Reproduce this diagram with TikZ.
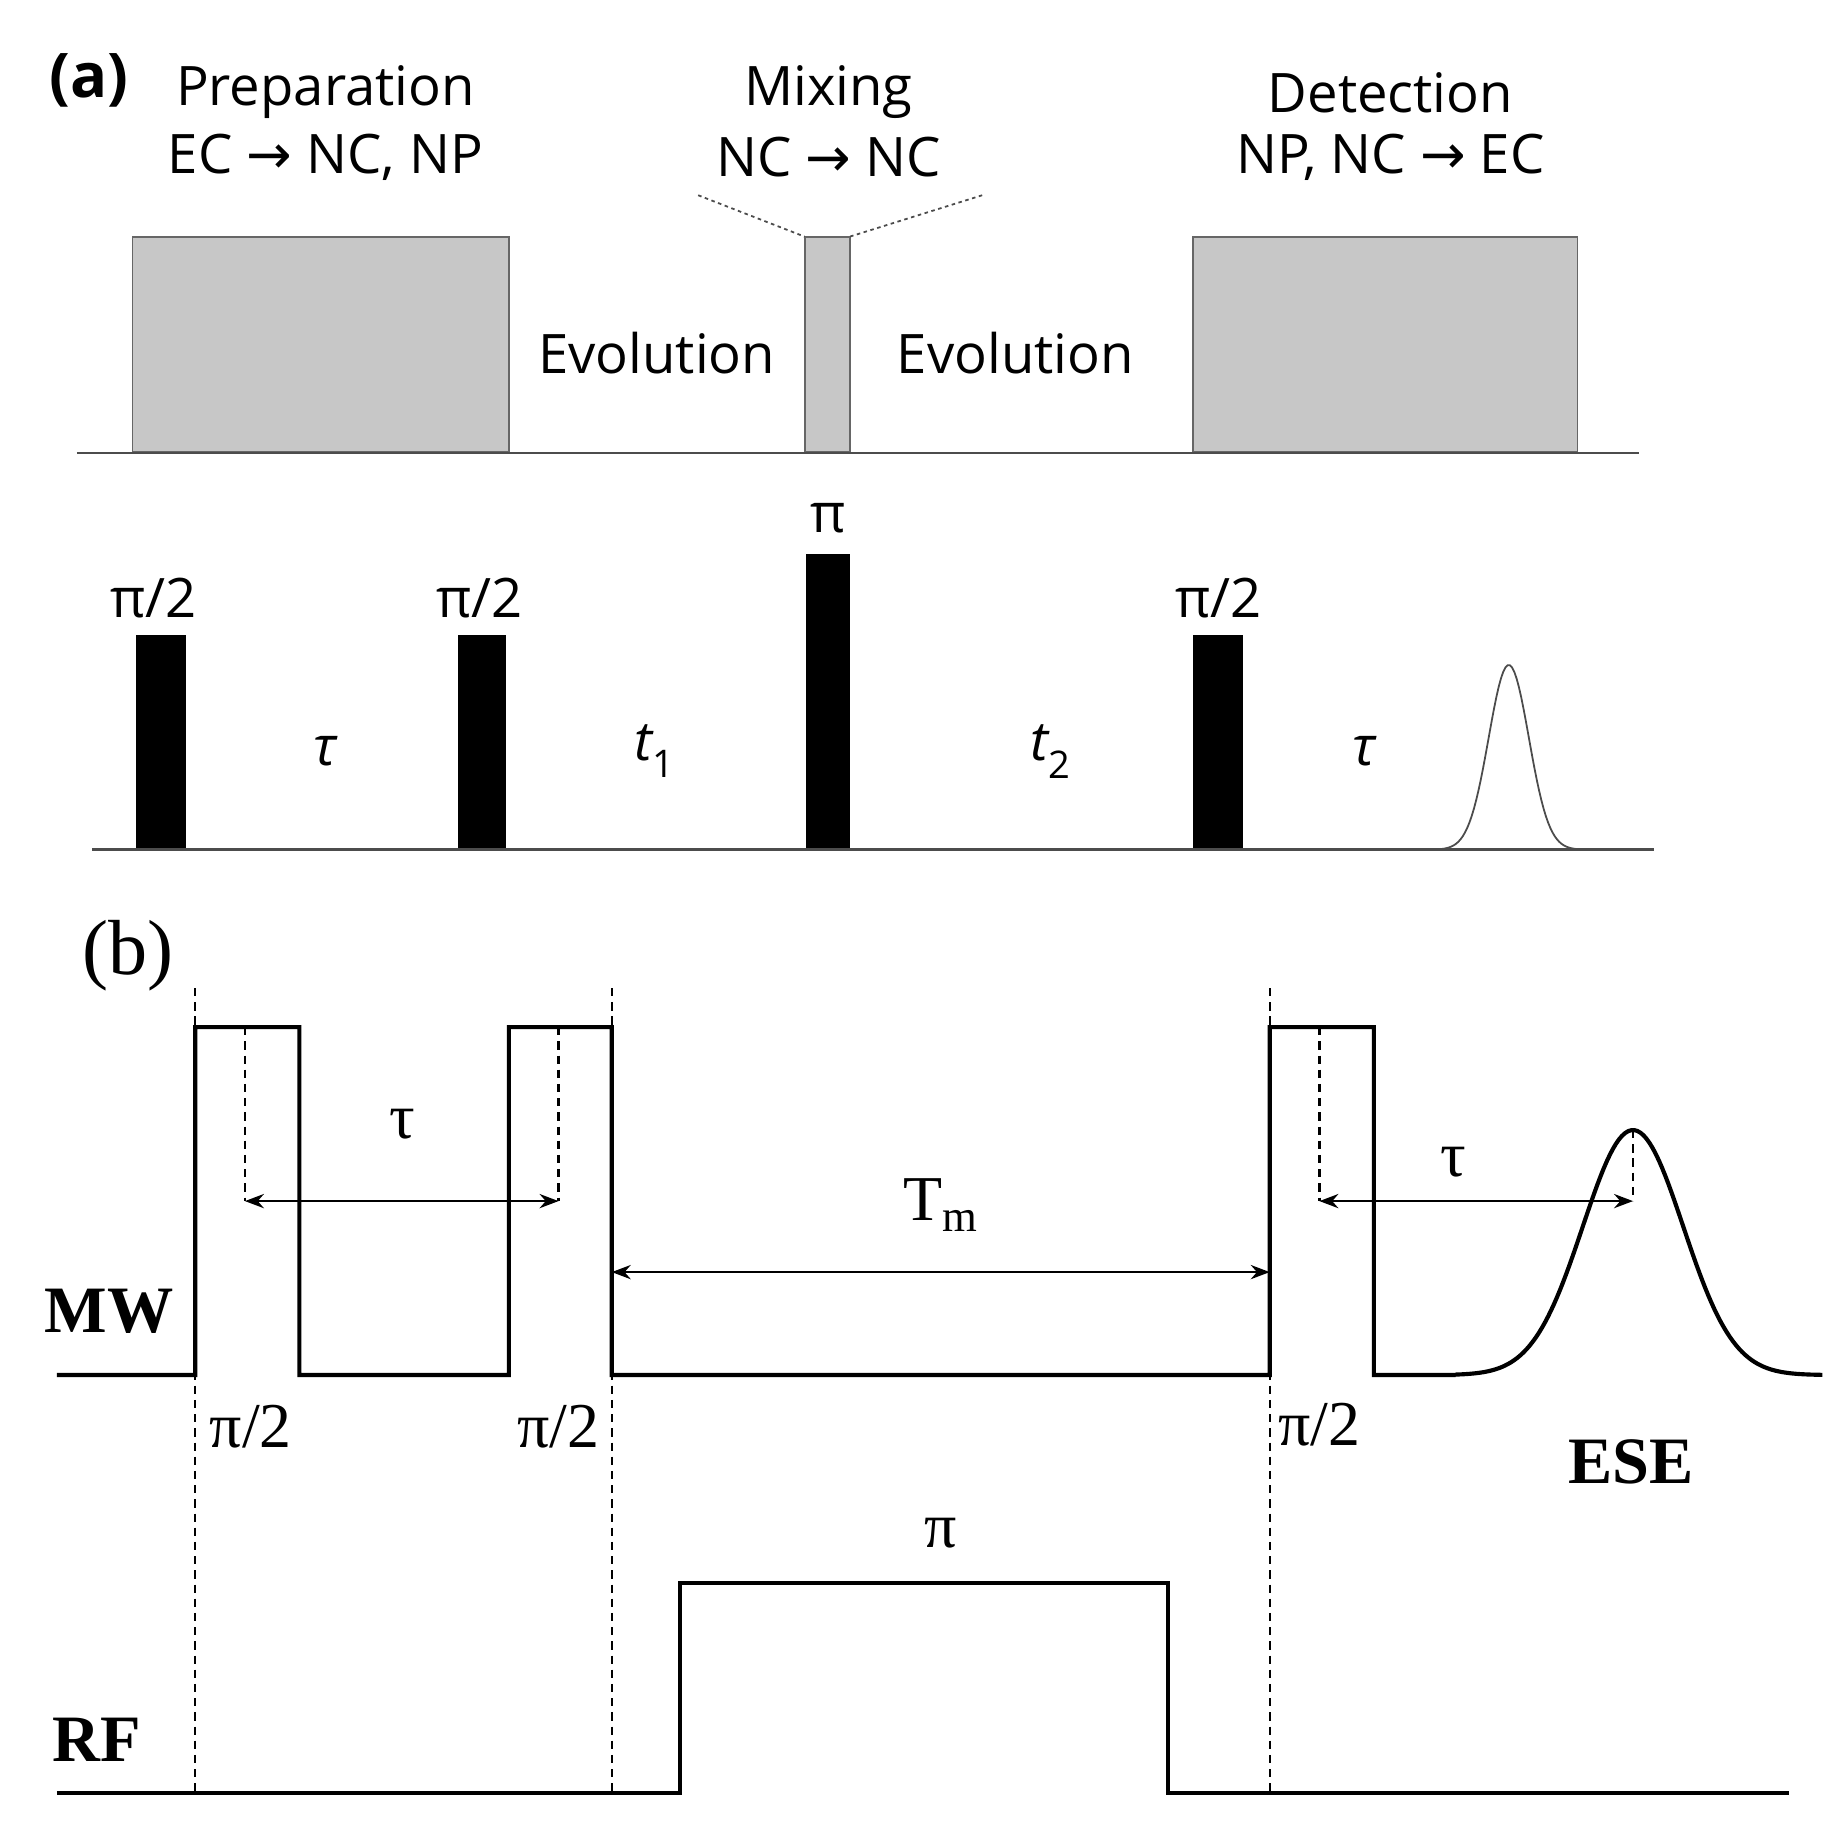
\documentclass[tikz,border=0pt]{standalone}
\usepackage{fontspec}
\setmainfont{Liberation Serif}
\newfontfamily\osans{Open Sans}
\newfontfamily\dv{DejaVu Sans}
\usetikzlibrary{arrows.meta}
\newcommand{\rar}{{\dv →}}
\begin{document}
\begin{tikzpicture}[x=1pt,y=-1pt,
  sa/.style={font=\osans\fontsize{46}{50}\selectfont},
  gbox/.style={draw=black!60,line width=1.5pt,fill=black!22},
  bbar/.style={fill=black},
  base/.style={draw=black!70,line width=2pt},
  sig/.style={line width=3.5pt,line join=miter},
  vdash/.style={line width=2pt,dash pattern=on 7pt off 5pt},
  dimarr/.style={{Stealth[length=16pt]}-{Stealth[length=16pt]},line width=2pt},
  sl/.style={font=\fontsize{54}{58}\selectfont},
  bl/.style={font=\bfseries\fontsize{56}{60}\selectfont}]
\useasboundingbox (0,0) rectangle (1560,1539);
% panel a
\node[font=\osans\bfseries\fontsize{52}{56}\selectfont] (la) at (75,68) {(a)};
\node[sa] (prep) at (275,78) {Preparation};
\node[sa] (prep2) at (275,133) {EC \rar{} NC, NP};
\node[sa] (mix) at (700,78) {Mixing};
\node[sa] (mix2) at (700,133) {NC \rar{} NC};
\node[sa] (det) at (1175,78) {Detection};
\node[sa] (det2) at (1175,133) {NP, NC \rar{} EC};
\draw[gbox] (112,200) rectangle (430,382);
\draw[gbox] (680,200) rectangle (718,382);
\draw[gbox] (1008,200) rectangle (1333,382);
\coordinate (m1) at (590,165); \coordinate (m2) at (830,165);
\coordinate (mb1) at (680,200); \coordinate (mb2) at (718,200);
\draw[dashed,line width=1.5pt,black!70] (m1) -- (mb1);
\draw[dashed,line width=1.5pt,black!70] (m2) -- (mb2);
\draw[base] (65,383) -- (1385,383);
\node[sa] (ev1) at (555,298) {Evolution};
\node[sa] (ev2) at (858,298) {Evolution};
\fill[bbar] (115,537) rectangle (157,718);
\fill[bbar] (387,537) rectangle (428,718);
\fill[bbar] (681,468) rectangle (718,718);
\fill[bbar] (1008,537) rectangle (1050,718);
\node[sa] (p1) at (130,505) {π/2};
\node[sa] (p2) at (405,505) {π/2};
\node[sa] (p3) at (700,438) {π};
\node[sa] (p4) at (1030,505) {π/2};
\node[sa] (ta1) at (275,635) {\itshape τ};
\node[sa] (t1) at (553,635) {\itshape t\textsubscript{\upshape 1}};
\node[sa] (t2) at (888,635) {\itshape t\textsubscript{\upshape 2}};
\node[sa] (ta2) at (1153,635) {\itshape τ};
\draw[black!70,line width=1.5pt] plot[domain=1200:1350,samples=80] (\x,{718-156*exp(-((\x-1275)/24)^2)});
\draw[base] (78,718) -- (1398,718);
% panel b
\node[font=\fontsize{66}{70}\selectfont] (lb) at (108,808) {(b)};
\draw[sig] (48,1162) -- (165,1162) -- (165,868) -- (253,868) -- (253,1162) -- (430,1162) -- (430,868) -- (517,868) -- (517,1162) -- (1073,1162) -- (1073,868) -- (1161,868) -- (1161,1162) -- (1230,1162)
  plot[domain=1230:1540,samples=120] (\x,{1162-207*exp(-((\x-1380)/60)^2)});
\foreach \xx in {165,517,1073} \draw[vdash] (\xx,835) -- (\xx,1515);
\foreach \xx in {207,472,1115} \draw[vdash] (\xx,868) -- (\xx,1015);
\draw[vdash] (1380,955) -- (1380,1015);
\coordinate (a1) at (207,1015); \coordinate (a2) at (472,1015);
\coordinate (b1) at (517,1075); \coordinate (b2) at (1073,1075);
\coordinate (c1) at (1115,1015); \coordinate (c2) at (1380,1015);
\draw[dimarr] (a1) -- (a2);
\draw[dimarr] (b1) -- (b2);
\draw[dimarr] (c1) -- (c2);
\node[sl] (tb1) at (340,950) {τ};
\node[sl] (tm) at (795,1018) {T\textsubscript{m}};
\node[sl] (tb2) at (1228,982) {τ};
\node[bl] (mw) at (92,1108) {MW};
\node[sl] (q1) at (212,1206) {π/2};
\node[sl] (q2) at (472,1206) {π/2};
\node[sl] (q3) at (1115,1204) {π/2};
\node[bl] (ese) at (1378,1235) {ESE};
\draw[sig] (48,1515) -- (575,1515) -- (575,1338) -- (987,1338) -- (987,1515) -- (1512,1515);
\node[sl] (pr) at (795,1296) {π};
\node[bl] (rf) at (82,1470) {RF};
\end{tikzpicture}
\end{document}
